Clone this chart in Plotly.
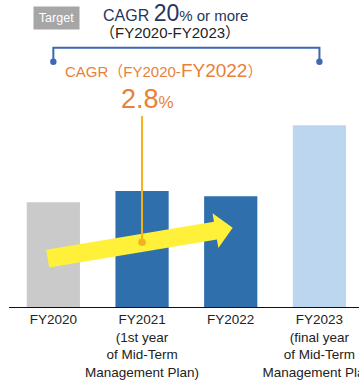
import math
import plotly.graph_objects as go

# ---- data -------------------------------------------------------------
years = ["FY2020", "FY2021", "FY2022", "FY2023"]
tick_labels = [
    "FY2020",
    "FY2021<br>(1st year<br>of Mid-Term<br>Management Plan)",
    "FY2022",
    "FY2023<br>(final year<br>of Mid-Term<br>Management Plan)",
]
values = [100.0, 110.8, 105.7, 173.5]          # index, FY2020 = 100
bar_colors = ["#c9cac9", "#2e6fac", "#2e6fac", "#bdd6f0"]
cagr_actual = "2.8"
cagr_target = "20"

# ---- layout constants --------------------------------------------------
W, H = 359, 389
ML, MR, MT, MB = 9, 0, 0, 82
PW, PH = W - ML - MR, H - MT - MB
XMAX, YMAX = 3.446, 293.0

FONT = "Arial, 'Liberation Sans', 'Noto Sans CJK JP', sans-serif"
ORANGE = "#e97f38"
NAVY = "#1f3662"
BRACKET = "#3f68b2"
GOLD = "#f3b21c"
YELLOW = "#fff03a"


def dx(px):
    """screen x (px) -> x data"""
    return -0.5 + (px - ML) / PW * (XMAX + 0.5)


def dy(py):
    """screen y (px) -> y data"""
    return (H - MB - py) / PH * YMAX


def sx(x):
    return ML + (x + 0.5) / (XMAX + 0.5) * PW


def sy(y):
    return H - MB - y / YMAX * PH


fig = go.Figure()
fig.add_trace(go.Bar(
    x=list(range(len(years))), y=values, width=0.6,
    marker=dict(color=bar_colors, line=dict(width=0)),
    hoverinfo="skip", showlegend=False,
))

shapes = []

# growth arrow (screen geometry, then mapped to data units)
tail = (47.7, 258.7)
tip = (232.7, 227.7)
ux, uy = tip[0] - tail[0], tip[1] - tail[1]
L = math.hypot(ux, uy)
ux, uy = ux / L, uy / L
nx, ny = -uy, ux
hs, hh, hl = 9.0, 17.7, 17.5
base = (tip[0] - hl * ux, tip[1] - hl * uy)
pts = [
    (tail[0] - hs * nx, tail[1] - hs * ny),
    (base[0] - hs * nx, base[1] - hs * ny),
    (base[0] - hh * nx, base[1] - hh * ny),
    tip,
    (base[0] + hh * nx, base[1] + hh * ny),
    (base[0] + hs * nx, base[1] + hs * ny),
    (tail[0] + hs * nx, tail[1] + hs * ny),
]
path = "M " + " L ".join(f"{dx(px):.5f},{dy(py):.4f}" for px, py in pts) + " Z"
shapes.append(dict(type="path", path=path, xref="x", yref="y",
                   fillcolor=YELLOW, line=dict(width=0), layer="above"))

# leader from the CAGR figure down to the arrow
lead_x = 1
shapes.append(dict(type="line", xref="x", yref="y",
                   x0=lead_x, x1=lead_x, y0=dy(116), y1=dy(242.3),
                   line=dict(color=GOLD, width=2), layer="above"))
shapes.append(dict(type="circle", xref="x", yref="y",
                   xsizemode="pixel", ysizemode="pixel",
                   xanchor=lead_x, yanchor=dy(242.3),
                   x0=-3.8, x1=3.8, y0=-3.8, y1=3.8,
                   fillcolor=GOLD, line=dict(width=0), layer="above"))

# bracket spanning FY2020 .. FY2023
b_top, b_end = dy(47.7), dy(61.7)
shapes.append(dict(type="path", xref="x", yref="y",
                   path=f"M 0,{b_end} L 0,{b_top} L 3,{b_top} L 3,{b_end}",
                   line=dict(color=BRACKET, width=2), layer="above"))
for bx in (0, 3):
    shapes.append(dict(type="circle", xref="x", yref="y",
                       xsizemode="pixel", ysizemode="pixel",
                       xanchor=bx, yanchor=b_end,
                       x0=-3.2, x1=3.2, y0=-3.2, y1=3.2,
                       fillcolor=BRACKET, line=dict(width=0), layer="above"))

ann = []
ann.append(dict(
    x=dx(56.3), y=dy(17.9), xref="x", yref="y",
    text="Target", showarrow=False, width=43, height=20,
    bgcolor="#a6a6a6", font=dict(family=FONT, size=12.5, color="white"),
    xanchor="center", yanchor="middle",
))
ann.append(dict(
    x=dx(175.4), y=dy(12.5), xref="x", yref="y", showarrow=False,
    text=(f"CAGR <span style='font-size:23px'>{cagr_target}</span>"
          "<span style='font-size:15px'>% or more</span>"),
    font=dict(family=FONT, size=16, color=NAVY),
    xanchor="center", yanchor="middle",
))
ann.append(dict(
    x=dx(169.5), y=dy(32), xref="x", yref="y", showarrow=False,
    text="（FY2020-FY2023）",
    font=dict(family=FONT, size=15, color="#222222"),
    xanchor="center", yanchor="middle",
))
ann.append(dict(
    x=dx(163), y=dy(70), xref="x", yref="y", showarrow=False,
    text="CAGR（FY2020-<span style='font-size:19px'>FY2022</span>）",
    font=dict(family=FONT, size=15, color=ORANGE),
    xanchor="center", yanchor="middle",
))
ann.append(dict(
    x=dx(147.5), y=dy(99), xref="x", yref="y", showarrow=False,
    text=f"{cagr_actual}<span style='font-size:17px'>%</span>",
    font=dict(family=FONT, size=27, color=ORANGE),
    xanchor="center", yanchor="middle",
))

fig.update_layout(
    width=W, height=H,
    margin=dict(l=ML, r=MR, t=MT, b=MB, pad=0),
    paper_bgcolor="white", plot_bgcolor="white",
    bargap=0.4,
    shapes=shapes, annotations=ann,
    font=dict(family=FONT, size=13.5, color="#222222"),
    xaxis=dict(
        range=[-0.5, XMAX], tickvals=list(range(len(years))), ticktext=tick_labels,
        showgrid=False, zeroline=False, showline=True, linecolor="#111111",
        linewidth=1, ticks="", automargin=False, ticklabeloverflow="allow",
        tickfont=dict(family=FONT, size=13.5, color="#222222"),
        fixedrange=True,
    ),
    yaxis=dict(range=[0, YMAX], visible=False, showgrid=False, zeroline=False,
               automargin=False, fixedrange=True),
)

fig.write_html("out.html", config={"displayModeBar": False})
